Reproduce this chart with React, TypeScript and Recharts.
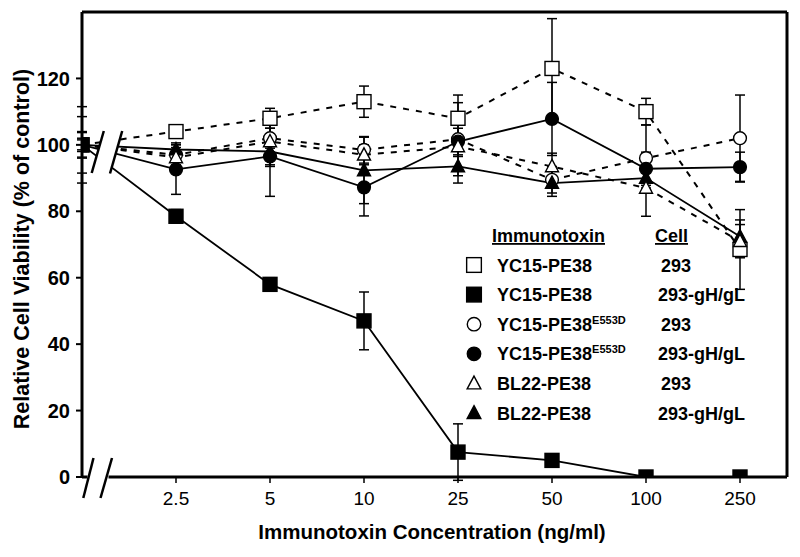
import React from 'react';
import { LineChart, Line, XAxis, YAxis, ErrorBar, ReferenceLine } from 'recharts';

// x categories (index 0 = untreated control, drawn on the y axis)
const categories = ['control', '2.5', '5', '10', '25', '50', '100', '250'];
const xTickIndex = [1, 2, 3, 4, 5, 6, 7];
const yTicks = [0, 20, 40, 60, 80, 100, 120];

// YC15-PE38 on 293 (open square, dashed)
const yc15_293 = [100, 104, 108, 113, 108, 123, 110, 68.5];
const yc15_293_err = [11.5, 1.5, 3, 4.7, 7, 15, 4, 12];
// YC15-PE38 on 293-gH/gL (filled square, solid)
const yc15_gh = [100, 78.5, 58, 47, 7.5, 5, 0, 0];
const yc15_gh_err = [8.5, 2, 2, 8.7, 8.5, 1, 0, 0];
// YC15-PE38E553D on 293 (open circle, dashed)
const e553d_293 = [100, 97, 102, 98.5, 101.7, 89.5, 96, 102];
const e553d_293_err = [4, 3, 3, 4, 11, 4, 10, 13];
// YC15-PE38E553D on 293-gH/gL (filled circle, solid)
const e553d_gh = [100, 92.6, 96.5, 87.2, 101, 107.8, 92.8, 93.3];
const e553d_gh_err = [3.7, 7.5, 12, 8.6, 4, 11, 5, 4.5];
// BL22-PE38 on 293 (open triangle, dashed)
const bl22_293 = [100, 96.2, 101, 97, 99.5, 93.5, 87, 71];
const bl22_293_err = [2, 3, 7, 3, 3, 4, 8.5, 5];
// BL22-PE38 on 293-gH/gL (filled triangle, solid)
const bl22_gh = [100, 98.6, 98, 92.3, 93.5, 88.5, 90, 72.4];
const bl22_gh_err = [1.5, 2, 4.5, 10, 5, 4, 3, 5];

const rows = categories.map((c, i) => ({
  x: i,
  cat: c,
  a: yc15_293[i], aErr: yc15_293_err[i],
  b: yc15_gh[i], bErr: yc15_gh_err[i],
  c: e553d_293[i], cErr: e553d_293_err[i],
  d: e553d_gh[i], dErr: e553d_gh_err[i],
  e: bl22_293[i], eErr: bl22_293_err[i],
  f: bl22_gh[i], fErr: bl22_gh_err[i],
}));

const FONT = '"Liberation Sans", Arial, Helvetica, sans-serif';

type Shape = 'square' | 'circle' | 'triangle';

function Marker({ shape, filled, cx, cy, s = 1 }: { shape: Shape; filled: boolean; cx: number; cy: number; s?: number }) {
  const fill = filled ? '#000' : '#fff';
  if (shape === 'square') {
    const h = 7 * s;
    return <rect x={cx - h} y={cy - h} width={2 * h} height={2 * h} fill={fill} stroke="#000" strokeWidth={1.4} />;
  }
  if (shape === 'circle') {
    return <circle cx={cx} cy={cy} r={6.4 * s} fill={fill} stroke="#000" strokeWidth={1.4} />;
  }
  const r = 7 * s;
  return (
    <polygon
      points={`${cx},${cy - r} ${cx + r * 0.93},${cy + r * 0.75} ${cx - r * 0.93},${cy + r * 0.75}`}
      fill={fill}
      stroke="#000"
      strokeWidth={1.4}
      strokeLinejoin="miter"
    />
  );
}

const makeDot = (shape: Shape, filled: boolean) => (props: any) => {
  const { cx, cy, index } = props;
  if (cx == null || cy == null) return <g key={`n${index}`} />;
  return (
    <g key={`${shape}${filled}${index}`}>
      <Marker shape={shape} filled={filled} cx={cx} cy={cy} />
    </g>
  );
};

const legendRows: { shape: Shape; filled: boolean; name: string; sup?: string; cell: string }[] = [
  { shape: 'square', filled: false, name: 'YC15-PE38', cell: '293' },
  { shape: 'square', filled: true, name: 'YC15-PE38', cell: '293-gH/gL' },
  { shape: 'circle', filled: false, name: 'YC15-PE38', sup: 'E553D', cell: '293' },
  { shape: 'circle', filled: true, name: 'YC15-PE38', sup: 'E553D', cell: '293-gH/gL' },
  { shape: 'triangle', filled: false, name: 'BL22-PE38', cell: '293' },
  { shape: 'triangle', filled: true, name: 'BL22-PE38', cell: '293-gH/gL' },
];

export default function App() {
  const seriesCommon = { isAnimationActive: false, type: 'linear' as const, stroke: '#000' };
  const errProps = { stroke: '#000', strokeWidth: 1.5, width: 5 };
  return (
    <div style={{ position: 'absolute', left: 0, top: 0, width: 800, height: 557, background: '#fff' }}>
      <LineChart width={800} height={557} data={rows} margin={{ top: 12, right: 13, left: 0, bottom: 0 }}>
        <XAxis
          type="number"
          dataKey="x"
          domain={[0, 7.5]}
          ticks={xTickIndex}
          interval={0}
          tickFormatter={(v: number) => categories[v]}
          height={80}
          axisLine={{ stroke: '#000', strokeWidth: 3 }}
          tickLine={{ stroke: '#000', strokeWidth: 1.5 }}
          tickSize={6}
          tickMargin={9}
          tick={{ fill: '#000', fontSize: 19, fontFamily: FONT }}
          allowDataOverflow
        />
        <YAxis
          type="number"
          domain={[0, 140]}
          ticks={yTicks}
          width={82}
          interval={0}
          axisLine={{ stroke: '#000', strokeWidth: 3 }}
          tickLine={{ stroke: '#000', strokeWidth: 2 }}
          tickSize={6}
          tickMargin={6}
          tick={{ fill: '#000', fontSize: 20, fontWeight: 'bold', fontFamily: FONT }}
          allowDataOverflow
        />
        <ReferenceLine y={140} stroke="#000" strokeWidth={3} ifOverflow="extendDomain" />
        <ReferenceLine x={7.5} stroke="#000" strokeWidth={3} ifOverflow="extendDomain" />

        <Line {...seriesCommon} dataKey="a" strokeWidth={2} strokeDasharray="6 7" dot={makeDot('square', false)}>
          <ErrorBar dataKey="aErr" {...errProps} />
        </Line>
        <Line {...seriesCommon} dataKey="c" strokeWidth={2} strokeDasharray="6 7" dot={makeDot('circle', false)}>
          <ErrorBar dataKey="cErr" {...errProps} />
        </Line>
        <Line {...seriesCommon} dataKey="d" strokeWidth={1.8} dot={makeDot('circle', true)}>
          <ErrorBar dataKey="dErr" {...errProps} />
        </Line>
        <Line {...seriesCommon} dataKey="f" strokeWidth={1.8} dot={makeDot('triangle', true)}>
          <ErrorBar dataKey="fErr" {...errProps} />
        </Line>
        <Line {...seriesCommon} dataKey="e" strokeWidth={2} strokeDasharray="6 7" dot={makeDot('triangle', false)}>
          <ErrorBar dataKey="eErr" {...errProps} />
        </Line>
        <Line {...seriesCommon} dataKey="b" strokeWidth={1.8} dot={makeDot('square', true)}>
          <ErrorBar dataKey="bErr" {...errProps} />
        </Line>
      </LineChart>

      <svg width={800} height={557} style={{ position: 'absolute', left: 0, top: 0, pointerEvents: 'none' }}>
        {/* axis break in the data lines */}
        <polygon points="103.3,131.5 121.7,131.5 110,174.5 91.7,174.5" fill="#fff" />
        <line x1={103.8} y1={131} x2={91.7} y2={173} stroke="#000" strokeWidth={2.5} />
        <line x1={122.2} y1={131} x2={110} y2={173.5} stroke="#000" strokeWidth={2.5} />
        {/* axis break on the x axis */}
        <rect x={87.5} y={473} width={21} height={9} fill="#fff" />
        <line x1={93.5} y1={458} x2={83.3} y2={498} stroke="#000" strokeWidth={2.5} />
        <line x1={112} y1={458} x2={100.5} y2={498} stroke="#000" strokeWidth={2.5} />

        {/* axis titles */}
        <text
          transform="translate(22,249) rotate(-90)"
          textAnchor="middle"
          dominantBaseline="central"
          fontFamily={FONT}
          fontWeight="bold"
          fontSize={21.5}
          fill="#000"
        >
          Relative Cell Viability (% of control)
        </text>
        <text x={432} y={539} textAnchor="middle" fontFamily={FONT} fontWeight="bold" fontSize={20.5} fill="#000">
          Immunotoxin Concentration (ng/ml)
        </text>

        {/* legend */}
        <text x={492} y={242} fontFamily={FONT} fontWeight="bold" fontSize={18} fill="#000" style={{ textDecoration: 'underline' }}>
          Immunotoxin
        </text>
        <text x={655} y={242} fontFamily={FONT} fontWeight="bold" fontSize={18} fill="#000" style={{ textDecoration: 'underline' }}>
          Cell
        </text>
        {legendRows.map((r, i) => {
          const cy = 265 + i * 29.6;
          return (
            <g key={i}>
              <Marker shape={r.shape} filled={r.filled} cx={474} cy={cy} s={1.05} />
              <text x={497} y={cy + 6.5} fontFamily={FONT} fontWeight="bold" fontSize={18} fill="#000">
                {r.name}
                {r.sup ? (
                  <tspan fontSize={11} dy={-7}>
                    {r.sup}
                  </tspan>
                ) : null}
              </text>
              <text x={r.cell === '293' ? 661 : 658} y={cy + 6.5} fontFamily={FONT} fontWeight="bold" fontSize={18} fill="#000">
                {r.cell}
              </text>
            </g>
          );
        })}
      </svg>
    </div>
  );
}
